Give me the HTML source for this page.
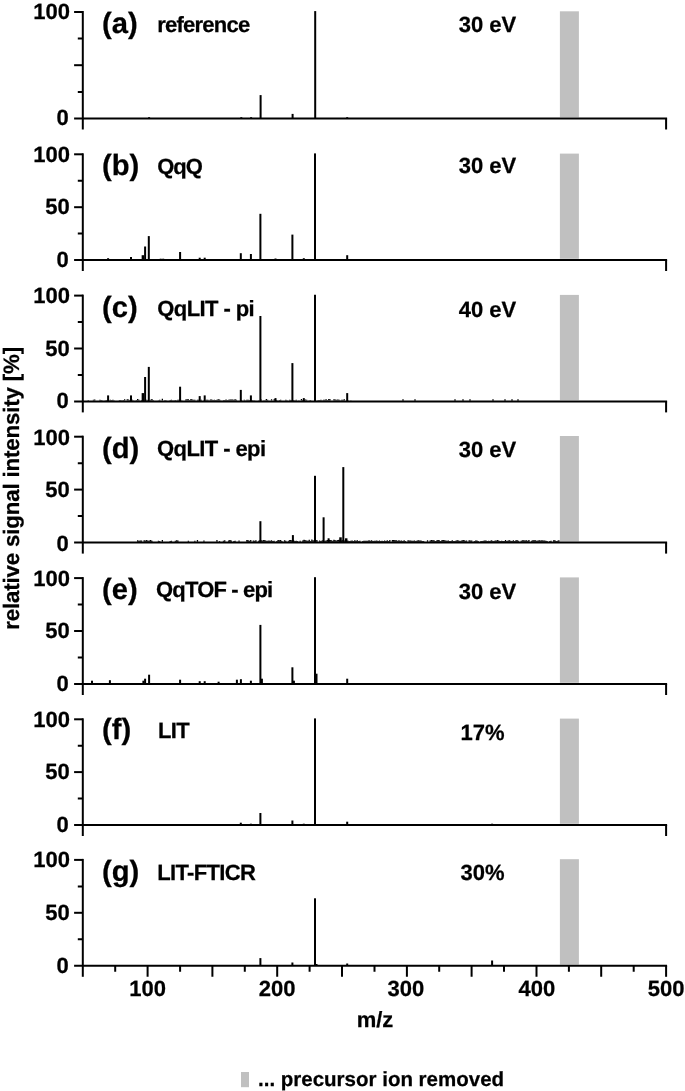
<!DOCTYPE html>
<html><head><meta charset="utf-8"><title>Figure</title>
<style>html,body{margin:0;padding:0;background:#fff}svg text{stroke:#000;stroke-width:0.25px}</style></head>
<body>
<svg width="685" height="1091" viewBox="0 0 685 1091" style="display:block;font-family:'Liberation Sans',Arial,Helvetica,sans-serif;font-weight:bold;text-rendering:geometricPrecision" fill="#000">
<rect width="685" height="1091" fill="#fff"/>
<rect x="559.9" y="11.3" width="19" height="106.0" fill="#c0c0c0"/>
<g><rect x="259.60" y="95.10" width="2.0" height="23.40"/><rect x="291.60" y="113.90" width="2.0" height="4.60"/><rect x="314.20" y="11.10" width="2.0" height="107.40"/><rect x="148.10" y="117.20" width="2.0" height="1.30"/><rect x="240.30" y="117.20" width="2.0" height="1.30"/><rect x="250.10" y="117.20" width="2.0" height="1.30"/><rect x="346.20" y="117.20" width="2.0" height="1.30"/></g>
<g stroke="#000" stroke-width="2.0" fill="none">
<path d="M74.1 118.5H667.1"/>
<path d="M82.8 11.0V129.5"/>
<path d="M666.1 118.5V129.5"/>
<path d="M74.1 12.0H82.8"/>
<path d="M74.1 65.2H82.8"/>
<path d="M77.8 38.6H82.8M77.8 91.9H82.8"/>
</g>
<text x="70.0" y="18.85" font-size="22" text-anchor="end">100</text>
<text x="68.8" y="125.40" font-size="22" text-anchor="end">0</text>
<text x="102.0" y="32.9" font-size="29.2">(a)</text>
<text x="157.3" y="31.7" font-size="22" textLength="92.9" lengthAdjust="spacing">reference</text>
<text x="458.7" y="31.5" font-size="22">30 eV</text>
<rect x="559.9" y="153.6" width="19" height="105.2" fill="#c0c0c0"/>
<g><rect x="107.10" y="258.20" width="2.0" height="1.80"/><rect x="130.00" y="257.00" width="2.0" height="3.00"/><rect x="141.65" y="255.20" width="2.5" height="4.80"/><rect x="144.10" y="246.50" width="2.0" height="13.50"/><rect x="147.80" y="236.10" width="2.0" height="23.90"/><rect x="159.70" y="258.70" width="2.0" height="1.30"/><rect x="162.20" y="258.70" width="2.0" height="1.30"/><rect x="179.10" y="252.00" width="2" height="8.00"/><rect x="198.70" y="257.70" width="2.0" height="2.30"/><rect x="203.70" y="257.70" width="2.0" height="2.30"/><rect x="239.80" y="253.20" width="2.0" height="6.80"/><rect x="249.90" y="254.00" width="2.0" height="6.00"/><rect x="259.40" y="213.80" width="2.0" height="46.20"/><rect x="274.50" y="258.50" width="2.0" height="1.50"/><rect x="291.40" y="234.60" width="2.0" height="25.40"/><rect x="302.80" y="258.20" width="2.0" height="1.80"/><rect x="314.00" y="153.40" width="2.0" height="106.60"/><rect x="346.20" y="255.20" width="2.0" height="4.80"/></g>
<g stroke="#000" stroke-width="2.0" fill="none">
<path d="M74.1 260.0H667.1"/>
<path d="M82.8 153.3V271.0"/>
<path d="M666.1 260.0V271.0"/>
<path d="M74.1 154.3H82.8"/>
<path d="M74.1 207.2H82.8"/>
<path d="M77.8 180.7H82.8M77.8 233.6H82.8"/>
</g>
<text x="70.0" y="161.75" font-size="22" text-anchor="end">100</text>
<text x="68.8" y="267.05" font-size="22" text-anchor="end">0</text>
<text x="69.7" y="214.35" font-size="22" text-anchor="end">50</text>
<text x="102.0" y="174.9" font-size="29.2">(b)</text>
<text x="157.3" y="174.3" font-size="22" textLength="45.6" lengthAdjust="spacing">QqQ</text>
<text x="458.7" y="173.4" font-size="22">30 eV</text>
<rect x="559.9" y="294.9" width="19" height="105.2" fill="#c0c0c0"/>
<g><rect x="107.10" y="395.40" width="2.0" height="6.00"/><rect x="130.00" y="395.40" width="2.0" height="6.00"/><rect x="141.65" y="393.10" width="2.5" height="8.30"/><rect x="144.10" y="377.00" width="2.0" height="24.40"/><rect x="147.80" y="366.90" width="2.0" height="34.50"/><rect x="179.10" y="386.70" width="2" height="14.70"/><rect x="198.70" y="396.10" width="2.0" height="5.30"/><rect x="203.70" y="395.40" width="2.0" height="6.00"/><rect x="239.80" y="389.90" width="2.0" height="11.50"/><rect x="249.90" y="395.40" width="2.0" height="6.00"/><rect x="259.40" y="316.00" width="2.0" height="85.40"/><rect x="274.50" y="398.10" width="2.0" height="3.30"/><rect x="291.40" y="363.10" width="2.0" height="38.30"/><rect x="302.80" y="398.10" width="2.0" height="3.30"/><rect x="314.00" y="294.75" width="2.0" height="106.65"/><rect x="346.20" y="393.10" width="2.0" height="8.30"/><path d="M85.0 400.50L85.0 400.50L86.3 400.50L86.3 400.50L87.6 400.50L87.6 400.02L88.9 400.02L88.9 400.50L90.2 400.50L90.2 400.50L91.5 400.50L91.5 400.50L92.8 400.50L92.8 399.67L94.1 399.67L94.1 399.58L95.4 399.58L95.4 400.46L96.7 400.46L96.7 400.50L98.0 400.50L98.0 400.39L99.3 400.39L99.3 399.77L100.6 399.77L100.6 399.98L101.9 399.98L101.9 400.16L103.2 400.16L103.2 400.50L104.5 400.50L104.5 400.31L105.8 400.31L105.8 400.12L107.1 400.12L107.1 399.97L108.4 399.97L108.4 400.23L109.7 400.23L109.7 399.87L111.0 399.87L111.0 399.98L112.3 399.98L112.3 399.71L113.6 399.71L113.6 400.24L114.9 400.24L114.9 400.39L116.2 400.39L116.2 400.50L117.5 400.50L117.5 400.50L118.8 400.50L118.8 399.90L120.1 399.90L120.1 399.98L121.4 399.98L121.4 400.22L122.7 400.22L122.7 399.97L124.0 399.97L124.0 399.25L125.3 399.25L125.3 400.50L126.6 400.50L126.6 399.22L127.9 399.22L127.9 399.48L129.2 399.48L129.2 399.88L130.5 399.88L130.5 400.50L131.8 400.50L131.8 399.68L133.1 399.68L133.1 400.15L134.4 400.15L134.4 400.43L135.7 400.43L135.7 400.01L137.0 400.01L137.0 399.07L138.3 399.07L138.3 399.84L139.6 399.84L139.6 400.50L140.9 400.50L140.9 400.10L142.2 400.10L142.2 399.97L143.5 399.97L143.5 400.50L144.8 400.50L144.8 400.17L146.1 400.17L146.1 399.64L147.4 399.64L147.4 400.04L148.7 400.04L148.7 400.50L150.0 400.50L150.0 399.69L151.3 399.69L151.3 398.92L152.6 398.92L152.6 400.04L153.9 400.04L153.9 400.38L155.2 400.38L155.2 400.50L156.5 400.50L156.5 400.50L157.8 400.50L157.8 400.15L159.1 400.15L159.1 399.80L160.4 399.80L160.4 400.50L161.7 400.50L161.7 398.74L163.0 398.74L163.0 400.50L164.3 400.50L164.3 399.93L165.6 399.93L165.6 400.33L166.9 400.33L166.9 400.50L168.2 400.50L168.2 400.50L169.5 400.50L169.5 400.02L170.8 400.02L170.8 399.72L172.1 399.72L172.1 400.26L173.4 400.26L173.4 400.35L174.7 400.35L174.7 400.02L176.0 400.02L176.0 400.20L177.3 400.20L177.3 399.77L178.6 399.77L178.6 399.73L179.9 399.73L179.9 399.76L181.2 399.76L181.2 400.30L182.5 400.30L182.5 400.50L183.8 400.50L183.8 400.47L185.1 400.47L185.1 399.57L186.4 399.57L186.4 399.16L187.7 399.16L187.7 399.28L189.0 399.28L189.0 400.10L190.3 400.10L190.3 399.04L191.6 399.04L191.6 399.42L192.9 399.42L192.9 399.76L194.2 399.76L194.2 399.80L195.5 399.80L195.5 400.50L196.8 400.50L196.8 399.79L198.1 399.79L198.1 399.78L199.4 399.78L199.4 400.14L200.7 400.14L200.7 399.65L202.0 399.65L202.0 400.50L203.3 400.50L203.3 400.36L204.6 400.36L204.6 400.50L205.9 400.50L205.9 399.76L207.2 399.76L207.2 399.63L208.5 399.63L208.5 400.37L209.8 400.37L209.8 399.49L211.1 399.49L211.1 399.41L212.4 399.41L212.4 400.11L213.7 400.11L213.7 399.81L215.0 399.81L215.0 400.02L216.3 400.02L216.3 399.82L217.6 399.82L217.6 399.35L218.9 399.35L218.9 399.62L220.2 399.62L220.2 400.13L221.5 400.13L221.5 400.50L222.8 400.50L222.8 400.07L224.1 400.07L224.1 400.00L225.4 400.00L225.4 399.59L226.7 399.59L226.7 399.96L228.0 399.96L228.0 399.63L229.3 399.63L229.3 399.39L230.6 399.39L230.6 399.61L231.9 399.61L231.9 399.48L233.2 399.48L233.2 399.64L234.5 399.64L234.5 399.17L235.8 399.17L235.8 399.82L237.1 399.82L237.1 400.50L238.4 400.50L238.4 400.50L239.7 400.50L239.7 400.50L241.0 400.50L241.0 399.90L242.3 399.90L242.3 400.50L243.6 400.50L243.6 399.86L244.9 399.86L244.9 400.37L246.2 400.37L246.2 399.63L247.5 399.63L247.5 399.64L248.8 399.64L248.8 400.06L250.1 400.06L250.1 400.50L251.4 400.50L251.4 400.11L252.7 400.11L252.7 400.19L254.0 400.19L254.0 400.21L255.3 400.21L255.3 400.48L256.6 400.48L256.6 400.50L257.9 400.50L257.9 400.20L259.2 400.20L259.2 400.50L260.5 400.50L260.5 399.61L261.8 399.61L261.8 400.50L263.1 400.50L263.1 400.23L264.4 400.23L264.4 400.15L265.7 400.15L265.7 399.02L267.0 399.02L267.0 399.63L268.3 399.63L268.3 400.50L269.6 400.50L269.6 400.50L270.9 400.50L270.9 399.15L272.2 399.15L272.2 400.50L273.5 400.50L273.5 399.36L274.8 399.36L274.8 399.26L276.1 399.26L276.1 399.96L277.4 399.96L277.4 400.50L278.7 400.50L278.7 400.07L280.0 400.07L280.0 399.82L281.3 399.82L281.3 400.50L282.6 400.50L282.6 400.50L283.9 400.50L283.9 400.50L285.2 400.50L285.2 399.84L286.5 399.84L286.5 400.33L287.8 400.33L287.8 400.50L289.1 400.50L289.1 399.76L290.4 399.76L290.4 400.05L291.7 400.05L291.7 400.15L293.0 400.15L293.0 399.88L294.3 399.88L294.3 400.19L295.6 400.19L295.6 399.86L296.9 399.86L296.9 400.50L298.2 400.50L298.2 400.33L299.5 400.33L299.5 400.50L300.8 400.50L300.8 399.05L302.1 399.05L302.1 400.05L303.4 400.05L303.4 399.96L304.7 399.96L304.7 399.49L306.0 399.49L306.0 399.81L307.3 399.81L307.3 400.50L308.6 400.50L308.6 400.16L309.9 400.16L309.9 400.05L311.2 400.05L311.2 400.50L312.5 400.50L312.5 400.50L313.8 400.50L313.8 400.50L315.1 400.50L315.1 400.48L316.4 400.48L316.4 400.29L317.7 400.29L317.7 400.02L319.0 400.02L319.0 399.91L320.3 399.91L320.3 399.71L321.6 399.71L321.6 400.21L322.9 400.21L322.9 399.79L324.2 399.79L324.2 399.79L325.5 399.79L325.5 399.35L326.8 399.35L326.8 399.96L328.1 399.96L328.1 399.10L329.4 399.10L329.4 399.26L330.7 399.26L330.7 400.50L332.0 400.50L332.0 400.50L333.3 400.50L333.3 399.30L334.6 399.30L334.6 399.39L335.9 399.39L335.9 399.86L337.2 399.86L337.2 399.62L338.5 399.62L338.5 399.85L339.8 399.85L339.8 400.22L341.1 400.22L341.1 399.72L342.4 399.72L342.4 399.75L343.7 399.75L343.7 399.27L345.0 399.27L345.0 400.50L346.3 400.50L346.3 400.27L347.6 400.27L347.6 400.23L348.9 400.23L348.9 400.50L350.2 400.50L350.2 400.26L351.5 400.26L351.5 400.50ZM402 400.5v-1h2v1zM414 400.5v-1h2v1zM454 400.5v-1h2v1zM462 400.5v-1h2v1zM469 400.5v-1h2v1zM492 400.5v-1h2v1zM504 400.5v-1h2v1zM511 400.5v-1h2v1zM517 400.5v-1h2v1z"/></g>
<g stroke="#000" stroke-width="2.0" fill="none">
<path d="M74.1 401.4H667.1"/>
<path d="M82.8 294.6V412.4"/>
<path d="M666.1 401.4V412.4"/>
<path d="M74.1 295.6H82.8"/>
<path d="M74.1 348.5H82.8"/>
<path d="M77.8 322.1H82.8M77.8 375.0H82.8"/>
</g>
<text x="70.0" y="302.80" font-size="22" text-anchor="end">100</text>
<text x="68.8" y="407.90" font-size="22" text-anchor="end">0</text>
<text x="69.7" y="355.72" font-size="22" text-anchor="end">50</text>
<text x="102.0" y="316.9" font-size="29.2">(c)</text>
<text x="157.3" y="315.7" font-size="22" textLength="97.4" lengthAdjust="spacing">QqLIT - pi</text>
<text x="458.7" y="316.9" font-size="22">40 eV</text>
<rect x="559.9" y="436.0" width="19" height="105.4" fill="#c0c0c0"/>
<g><rect x="259.40" y="521.20" width="2.0" height="21.40"/><rect x="291.90" y="535.10" width="2.0" height="7.50"/><rect x="314.00" y="475.80" width="2.0" height="66.80"/><rect x="322.60" y="517.30" width="2.0" height="25.30"/><rect x="327.60" y="538.30" width="2.0" height="4.30"/><rect x="339.25" y="537.30" width="2.5" height="5.30"/><rect x="342.30" y="467.10" width="2.0" height="75.50"/><rect x="344.95" y="538.30" width="2.5" height="4.30"/><path d="M137.0 541.70L137.0 540.34L138.3 540.34L138.3 540.78L139.6 540.78L139.6 540.59L140.9 540.59L140.9 540.52L142.2 540.52L142.2 541.70L143.5 541.70L143.5 540.19L144.8 540.19L144.8 540.47L146.1 540.47L146.1 539.95L147.4 539.95L147.4 540.68L148.7 540.68L148.7 540.54L150.0 540.54L150.0 540.12L151.3 540.12L151.3 540.85L152.6 540.85L152.6 541.70L153.9 541.70L153.9 541.70L155.2 541.70L155.2 541.70L156.5 541.70L156.5 541.70L157.8 541.70L157.8 540.75L159.1 540.75L159.1 541.10L160.4 541.10L160.4 541.70L161.7 541.70L161.7 540.08L163.0 540.08L163.0 541.70L164.3 541.70L164.3 541.70L165.6 541.70L165.6 541.70L166.9 541.70L166.9 541.70L168.2 541.70L168.2 541.70L169.5 541.70L169.5 540.99L170.8 540.99L170.8 540.79L172.1 540.79L172.1 541.70L173.4 541.70L173.4 541.70L174.7 541.70L174.7 540.69L176.0 540.69L176.0 540.13L177.3 540.13L177.3 540.41L178.6 540.41L178.6 541.70L179.9 541.70L179.9 541.70L181.2 541.70L181.2 541.70L182.5 541.70L182.5 541.70L183.8 541.70L183.8 541.70L185.1 541.70L185.1 541.70L186.4 541.70L186.4 541.70L187.7 541.70L187.7 540.77L189.0 540.77L189.0 541.70L190.3 541.70L190.3 541.70L191.6 541.70L191.6 541.70L192.9 541.70L192.9 541.70L194.2 541.70L194.2 540.87L195.5 540.87L195.5 541.70L196.8 541.70L196.8 540.10L198.1 540.10L198.1 541.70L199.4 541.70L199.4 541.70L200.7 541.70L200.7 541.70L202.0 541.70L202.0 541.70L203.3 541.70L203.3 540.47L204.6 540.47L204.6 541.70L205.9 541.70L205.9 541.70L207.2 541.70L207.2 541.70L208.5 541.70L208.5 541.70L209.8 541.70L209.8 541.70L211.1 541.70L211.1 541.70L212.4 541.70L212.4 541.70L213.7 541.70L213.7 541.70L215.0 541.70L215.0 541.70L216.3 541.70L216.3 540.05L217.6 540.05L217.6 541.70L218.9 541.70L218.9 541.06L220.2 541.06L220.2 541.70L221.5 541.70L221.5 541.70L222.8 541.70L222.8 540.67L224.1 540.67L224.1 540.19L225.4 540.19L225.4 541.70L226.7 541.70L226.7 541.70L228.0 541.70L228.0 540.53L229.3 540.53L229.3 540.06L230.6 540.06L230.6 540.39L231.9 540.39L231.9 541.70L233.2 541.70L233.2 541.06L234.5 541.06L234.5 540.84L235.8 540.84L235.8 541.70L237.1 541.70L237.1 541.70L238.4 541.70L238.4 540.40L239.7 540.40L239.7 541.70L241.0 541.70L241.0 541.70L242.3 541.70L242.3 541.70L243.6 541.70L243.6 541.70L244.9 541.70L244.9 541.70L246.2 541.70L246.2 540.05L247.5 540.05L247.5 540.13L248.8 540.13L248.8 540.84L250.1 540.84L250.1 540.04L251.4 540.04L251.4 541.70L252.7 541.70L252.7 540.55L254.0 540.55L254.0 540.64L255.3 540.64L255.3 540.37L256.6 540.37L256.6 541.70L257.9 541.70L257.9 540.73L259.2 540.73L259.2 540.35L260.5 540.35L260.5 540.22L261.8 540.22L261.8 540.54L263.1 540.54L263.1 540.03L264.4 540.03L264.4 540.20L265.7 540.20L265.7 540.86L267.0 540.86L267.0 540.78L268.3 540.78L268.3 540.55L269.6 540.55L269.6 540.85L270.9 540.85L270.9 540.37L272.2 540.37L272.2 540.94L273.5 540.94L273.5 540.87L274.8 540.87L274.8 541.70L276.1 541.70L276.1 541.03L277.4 541.03L277.4 540.11L278.7 540.11L278.7 540.29L280.0 540.29L280.0 540.08L281.3 540.08L281.3 540.90L282.6 540.90L282.6 541.70L283.9 541.70L283.9 540.37L285.2 540.37L285.2 540.69L286.5 540.69L286.5 541.70L287.8 541.70L287.8 540.79L289.1 540.79L289.1 540.05L290.4 540.05L290.4 540.04L291.7 540.04L291.7 540.71L293.0 540.71L293.0 540.20L294.3 540.20L294.3 541.05L295.6 541.05L295.6 540.69L296.9 540.69L296.9 540.89L298.2 540.89L298.2 541.70L299.5 541.70L299.5 540.65L300.8 540.65L300.8 541.70L302.1 541.70L302.1 540.57L303.4 540.57L303.4 539.83L304.7 539.83L304.7 540.32L306.0 540.32L306.0 540.45L307.3 540.45L307.3 540.79L308.6 540.79L308.6 539.77L309.9 539.77L309.9 540.96L311.2 540.96L311.2 539.57L312.5 539.57L312.5 540.61L313.8 540.61L313.8 539.99L315.1 539.99L315.1 539.88L316.4 539.88L316.4 540.27L317.7 540.27L317.7 541.70L319.0 541.70L319.0 540.51L320.3 540.51L320.3 541.01L321.6 541.01L321.6 540.25L322.9 540.25L322.9 541.70L324.2 541.70L324.2 540.74L325.5 540.74L325.5 540.49L326.8 540.49L326.8 540.08L328.1 540.08L328.1 539.84L329.4 539.84L329.4 540.03L330.7 540.03L330.7 540.32L332.0 540.32L332.0 540.71L333.3 540.71L333.3 539.84L334.6 539.84L334.6 540.17L335.9 540.17L335.9 540.44L337.2 540.44L337.2 539.96L338.5 539.96L338.5 539.78L339.8 539.78L339.8 540.91L341.1 540.91L341.1 540.40L342.4 540.40L342.4 539.89L343.7 539.89L343.7 540.48L345.0 540.48L345.0 540.06L346.3 540.06L346.3 540.44L347.6 540.44L347.6 540.86L348.9 540.86L348.9 540.94L350.2 540.94L350.2 540.82L351.5 540.82L351.5 540.38L352.8 540.38L352.8 541.09L354.1 541.09L354.1 540.35L355.4 540.35L355.4 540.76L356.7 540.76L356.7 540.23L358.0 540.23L358.0 541.03L359.3 541.03L359.3 540.67L360.6 540.67L360.6 541.70L361.9 541.70L361.9 540.92L363.2 540.92L363.2 540.65L364.5 540.65L364.5 540.76L365.8 540.76L365.8 540.76L367.1 540.76L367.1 540.71L368.4 540.71L368.4 540.15L369.7 540.15L369.7 540.70L371.0 540.70L371.0 540.30L372.3 540.30L372.3 541.09L373.6 541.09L373.6 540.63L374.9 540.63L374.9 540.65L376.2 540.65L376.2 540.59L377.5 540.59L377.5 541.08L378.8 541.08L378.8 540.40L380.1 540.40L380.1 541.00L381.4 541.00L381.4 540.69L382.7 540.69L382.7 540.94L384.0 540.94L384.0 540.53L385.3 540.53L385.3 540.98L386.6 540.98L386.6 540.21L387.9 540.21L387.9 540.88L389.2 540.88L389.2 540.06L390.5 540.06L390.5 541.70L391.8 541.70L391.8 540.08L393.1 540.08L393.1 540.11L394.4 540.11L394.4 540.19L395.7 540.19L395.7 540.24L397.0 540.24L397.0 540.66L398.3 540.66L398.3 540.19L399.6 540.19L399.6 540.86L400.9 540.86L400.9 540.53L402.2 540.53L402.2 540.96L403.5 540.96L403.5 540.30L404.8 540.30L404.8 541.05L406.1 541.05L406.1 541.70L407.4 541.70L407.4 540.18L408.7 540.18L408.7 540.44L410.0 540.44L410.0 540.41L411.3 540.41L411.3 540.64L412.6 540.64L412.6 540.63L413.9 540.63L413.9 540.61L415.2 540.61L415.2 541.07L416.5 541.07L416.5 540.56L417.8 540.56L417.8 540.26L419.1 540.26L419.1 540.60L420.4 540.60L420.4 540.58L421.7 540.58L421.7 540.96L423.0 540.96L423.0 541.00L424.3 541.00L424.3 541.70L425.6 541.70L425.6 541.70L426.9 541.70L426.9 540.29L428.2 540.29L428.2 541.70L429.5 541.70L429.5 540.55L430.8 540.55L430.8 540.05L432.1 540.05L432.1 540.16L433.4 540.16L433.4 540.29L434.7 540.29L434.7 540.89L436.0 540.89L436.0 540.56L437.3 540.56L437.3 540.09L438.6 540.09L438.6 540.23L439.9 540.23L439.9 541.03L441.2 541.03L441.2 540.27L442.5 540.27L442.5 540.11L443.8 540.11L443.8 540.20L445.1 540.20L445.1 540.55L446.4 540.55L446.4 540.87L447.7 540.87L447.7 540.54L449.0 540.54L449.0 541.06L450.3 541.06L450.3 540.92L451.6 540.92L451.6 540.35L452.9 540.35L452.9 540.91L454.2 540.91L454.2 540.97L455.5 540.97L455.5 540.40L456.8 540.40L456.8 540.14L458.1 540.14L458.1 540.46L459.4 540.46L459.4 540.98L460.7 540.98L460.7 540.41L462.0 540.41L462.0 540.22L463.3 540.22L463.3 540.01L464.6 540.01L464.6 540.70L465.9 540.70L465.9 540.61L467.2 540.61L467.2 541.70L468.5 541.70L468.5 540.20L469.8 540.20L469.8 540.40L471.1 540.40L471.1 540.46L472.4 540.46L472.4 541.70L473.7 541.70L473.7 541.06L475.0 541.06L475.0 540.42L476.3 540.42L476.3 540.54L477.6 540.54L477.6 540.95L478.9 540.95L478.9 541.70L480.2 541.70L480.2 541.10L481.5 541.10L481.5 540.98L482.8 540.98L482.8 540.85L484.1 540.85L484.1 540.45L485.4 540.45L485.4 540.41L486.7 540.41L486.7 540.95L488.0 540.95L488.0 540.83L489.3 540.83L489.3 540.99L490.6 540.99L490.6 540.14L491.9 540.14L491.9 540.66L493.2 540.66L493.2 541.09L494.5 541.09L494.5 540.48L495.8 540.48L495.8 540.39L497.1 540.39L497.1 540.07L498.4 540.07L498.4 540.83L499.7 540.83L499.7 541.05L501.0 541.05L501.0 540.65L502.3 540.65L502.3 541.04L503.6 541.04L503.6 541.09L504.9 541.09L504.9 540.06L506.2 540.06L506.2 540.88L507.5 540.88L507.5 540.54L508.8 540.54L508.8 540.21L510.1 540.21L510.1 540.76L511.4 540.76L511.4 541.05L512.7 541.05L512.7 540.24L514.0 540.24L514.0 541.09L515.3 541.09L515.3 540.28L516.6 540.28L516.6 540.28L517.9 540.28L517.9 540.85L519.2 540.85L519.2 541.70L520.5 541.70L520.5 540.73L521.8 540.73L521.8 540.34L523.1 540.34L523.1 540.32L524.4 540.32L524.4 540.49L525.7 540.49L525.7 540.23L527.0 540.23L527.0 540.81L528.3 540.81L528.3 540.04L529.6 540.04L529.6 541.70L530.9 541.70L530.9 540.81L532.2 540.81L532.2 540.28L533.5 540.28L533.5 540.28L534.8 540.28L534.8 540.13L536.1 540.13L536.1 540.84L537.4 540.84L537.4 540.41L538.7 540.41L538.7 540.37L540.0 540.37L540.0 540.58L541.3 540.58L541.3 540.33L542.6 540.33L542.6 540.62L543.9 540.62L543.9 540.47L545.2 540.47L545.2 540.87L546.5 540.87L546.5 541.01L547.8 541.01L547.8 541.70L549.1 541.70L549.1 540.98L550.4 540.98L550.4 540.72L551.7 540.72L551.7 541.70L553.0 541.70L553.0 540.34L554.3 540.34L554.3 540.33L555.6 540.33L555.6 541.03L556.9 541.03L556.9 540.70L558.2 540.70L558.2 540.20L559.5 540.20L559.5 541.70Z"/></g>
<g stroke="#000" stroke-width="2.0" fill="none">
<path d="M74.1 542.6H667.1"/>
<path d="M82.8 435.7V553.6"/>
<path d="M666.1 542.6V553.6"/>
<path d="M74.1 436.7H82.8"/>
<path d="M74.1 489.6H82.8"/>
<path d="M77.8 463.2H82.8M77.8 516.1H82.8"/>
</g>
<text x="70.0" y="445.25" font-size="22" text-anchor="end">100</text>
<text x="68.8" y="550.50" font-size="22" text-anchor="end">0</text>
<text x="69.7" y="496.85" font-size="22" text-anchor="end">50</text>
<text x="102.0" y="458.0" font-size="29.2">(d)</text>
<text x="157.0" y="456.4" font-size="22" textLength="109.0" lengthAdjust="spacing">QqLIT - epi</text>
<text x="458.7" y="456.9" font-size="22">30 eV</text>
<rect x="559.9" y="577.4" width="19" height="105.4" fill="#c0c0c0"/>
<g><rect x="91.00" y="680.70" width="2.0" height="3.30"/><rect x="108.90" y="680.20" width="2.0" height="3.80"/><rect x="142.40" y="680.70" width="2.0" height="3.30"/><rect x="144.10" y="678.70" width="2.0" height="5.30"/><rect x="148.10" y="674.70" width="2.0" height="9.30"/><rect x="179.10" y="679.70" width="2.0" height="4.30"/><rect x="198.70" y="681.20" width="2.0" height="2.80"/><rect x="203.70" y="681.20" width="2.0" height="2.80"/><rect x="217.60" y="681.70" width="2.0" height="2.30"/><rect x="235.90" y="679.70" width="2.0" height="4.30"/><rect x="239.90" y="679.20" width="2.0" height="4.80"/><rect x="249.90" y="680.70" width="2.0" height="3.30"/><rect x="259.40" y="624.90" width="2.0" height="59.10"/><rect x="260.90" y="678.70" width="2.0" height="5.30"/><rect x="291.40" y="667.30" width="2" height="16.70"/><rect x="292.90" y="680.70" width="2.0" height="3.30"/><rect x="314.00" y="577.20" width="2.0" height="106.80"/><rect x="315.50" y="673.70" width="2" height="10.30"/><rect x="346.20" y="678.70" width="2.0" height="5.30"/></g>
<g stroke="#000" stroke-width="2.0" fill="none">
<path d="M74.1 684.0H667.1"/>
<path d="M82.8 577.1V695.0"/>
<path d="M666.1 684.0V695.0"/>
<path d="M74.1 578.1H82.8"/>
<path d="M74.1 631.0H82.8"/>
<path d="M77.8 604.6H82.8M77.8 657.5H82.8"/>
</g>
<text x="70.0" y="585.65" font-size="22" text-anchor="end">100</text>
<text x="68.8" y="690.80" font-size="22" text-anchor="end">0</text>
<text x="69.7" y="638.25" font-size="22" text-anchor="end">50</text>
<text x="102.0" y="599.4" font-size="29.2">(e)</text>
<text x="156.1" y="597.0" font-size="22" textLength="117.0" lengthAdjust="spacing">QqTOF - epi</text>
<text x="458.7" y="599.0" font-size="22">30 eV</text>
<rect x="559.9" y="718.6" width="19" height="105.2" fill="#c0c0c0"/>
<g><rect x="239.80" y="822.70" width="2.0" height="2.30"/><rect x="259.40" y="813.00" width="2.0" height="12.00"/><rect x="291.40" y="820.50" width="2" height="4.50"/><rect x="314.00" y="718.40" width="2.0" height="106.60"/><rect x="346.20" y="821.70" width="2.0" height="3.30"/><rect x="249.90" y="823.70" width="2.0" height="1.30"/><rect x="302.80" y="823.70" width="2.0" height="1.30"/><rect x="491.10" y="823.70" width="2.0" height="1.30"/></g>
<g stroke="#000" stroke-width="2.0" fill="none">
<path d="M74.1 825.0H667.1"/>
<path d="M82.8 718.3V836.0"/>
<path d="M666.1 825.0V836.0"/>
<path d="M74.1 719.3H82.8"/>
<path d="M74.1 772.1H82.8"/>
<path d="M77.8 745.7H82.8M77.8 798.6H82.8"/>
</g>
<text x="70.0" y="727.20" font-size="22" text-anchor="end">100</text>
<text x="68.8" y="832.40" font-size="22" text-anchor="end">0</text>
<text x="69.7" y="779.35" font-size="22" text-anchor="end">50</text>
<text x="102.0" y="739.3" font-size="29.2">(f)</text>
<text x="158.0" y="738.1" font-size="22" textLength="31.7" lengthAdjust="spacing">LIT</text>
<text x="460.6" y="739.7" font-size="22">17%</text>
<rect x="559.9" y="859.2" width="19" height="105.4" fill="#c0c0c0"/>
<g><rect x="259.40" y="958.10" width="2.0" height="7.70"/><rect x="291.40" y="962.50" width="2.0" height="3.30"/><rect x="314.00" y="898.30" width="2.0" height="67.50"/><rect x="315.50" y="964.00" width="2.0" height="1.80"/><rect x="346.20" y="963.50" width="2.0" height="2.30"/><rect x="491.10" y="960.50" width="2.0" height="5.30"/></g>
<g stroke="#000" stroke-width="2.0" fill="none">
<path d="M74.1 965.8H667.1"/>
<path d="M82.8 858.9V976.8"/>
<path d="M666.1 965.8V976.8"/>
<path d="M74.1 859.9H82.8"/>
<path d="M74.1 912.8H82.8"/>
<path d="M77.8 886.4H82.8M77.8 939.3H82.8"/>
<path d="M115.2 965.8v6M147.6 965.8v11M180.1 965.8v6M212.4 965.8v11M244.8 965.8v6M277.2 965.8v11M309.6 965.8v6M342.0 965.8v11M374.5 965.8v6M406.9 965.8v11M439.2 965.8v6M471.6 965.8v11M504.0 965.8v6M536.5 965.8v11M568.9 965.8v6M601.2 965.8v11M633.7 965.8v6"/>
</g>
<text x="70.0" y="866.95" font-size="22" text-anchor="end">100</text>
<text x="68.8" y="972.70" font-size="22" text-anchor="end">0</text>
<text x="69.7" y="920.05" font-size="22" text-anchor="end">50</text>
<text x="102.0" y="881.2" font-size="29.2">(g)</text>
<text x="157.3" y="879.6" font-size="22" textLength="98.6" lengthAdjust="spacing">LIT-FTICR</text>
<text x="460.6" y="879.7" font-size="22">30%</text>
<text x="147.6" y="995.5" font-size="22" text-anchor="middle">100</text>
<text x="277.2" y="995.5" font-size="22" text-anchor="middle">200</text>
<text x="405.9" y="995.5" font-size="22" text-anchor="middle">300</text>
<text x="536.9" y="995.5" font-size="22" text-anchor="middle">400</text>
<text x="666.1" y="995.5" font-size="22" text-anchor="middle">500</text>
<text x="375" y="1027.2" font-size="22" text-anchor="middle">m/z</text>
<text transform="translate(19.2 488.3) rotate(-90)" font-size="22.3" textLength="283" lengthAdjust="spacing" text-anchor="middle">relative signal intensity [%]</text>
<rect x="241" y="1072" width="8" height="15.2" fill="#c0c0c0"/>
<text x="258" y="1086.4" font-size="20.5">... precursor ion removed</text>
</svg>
</body></html>
